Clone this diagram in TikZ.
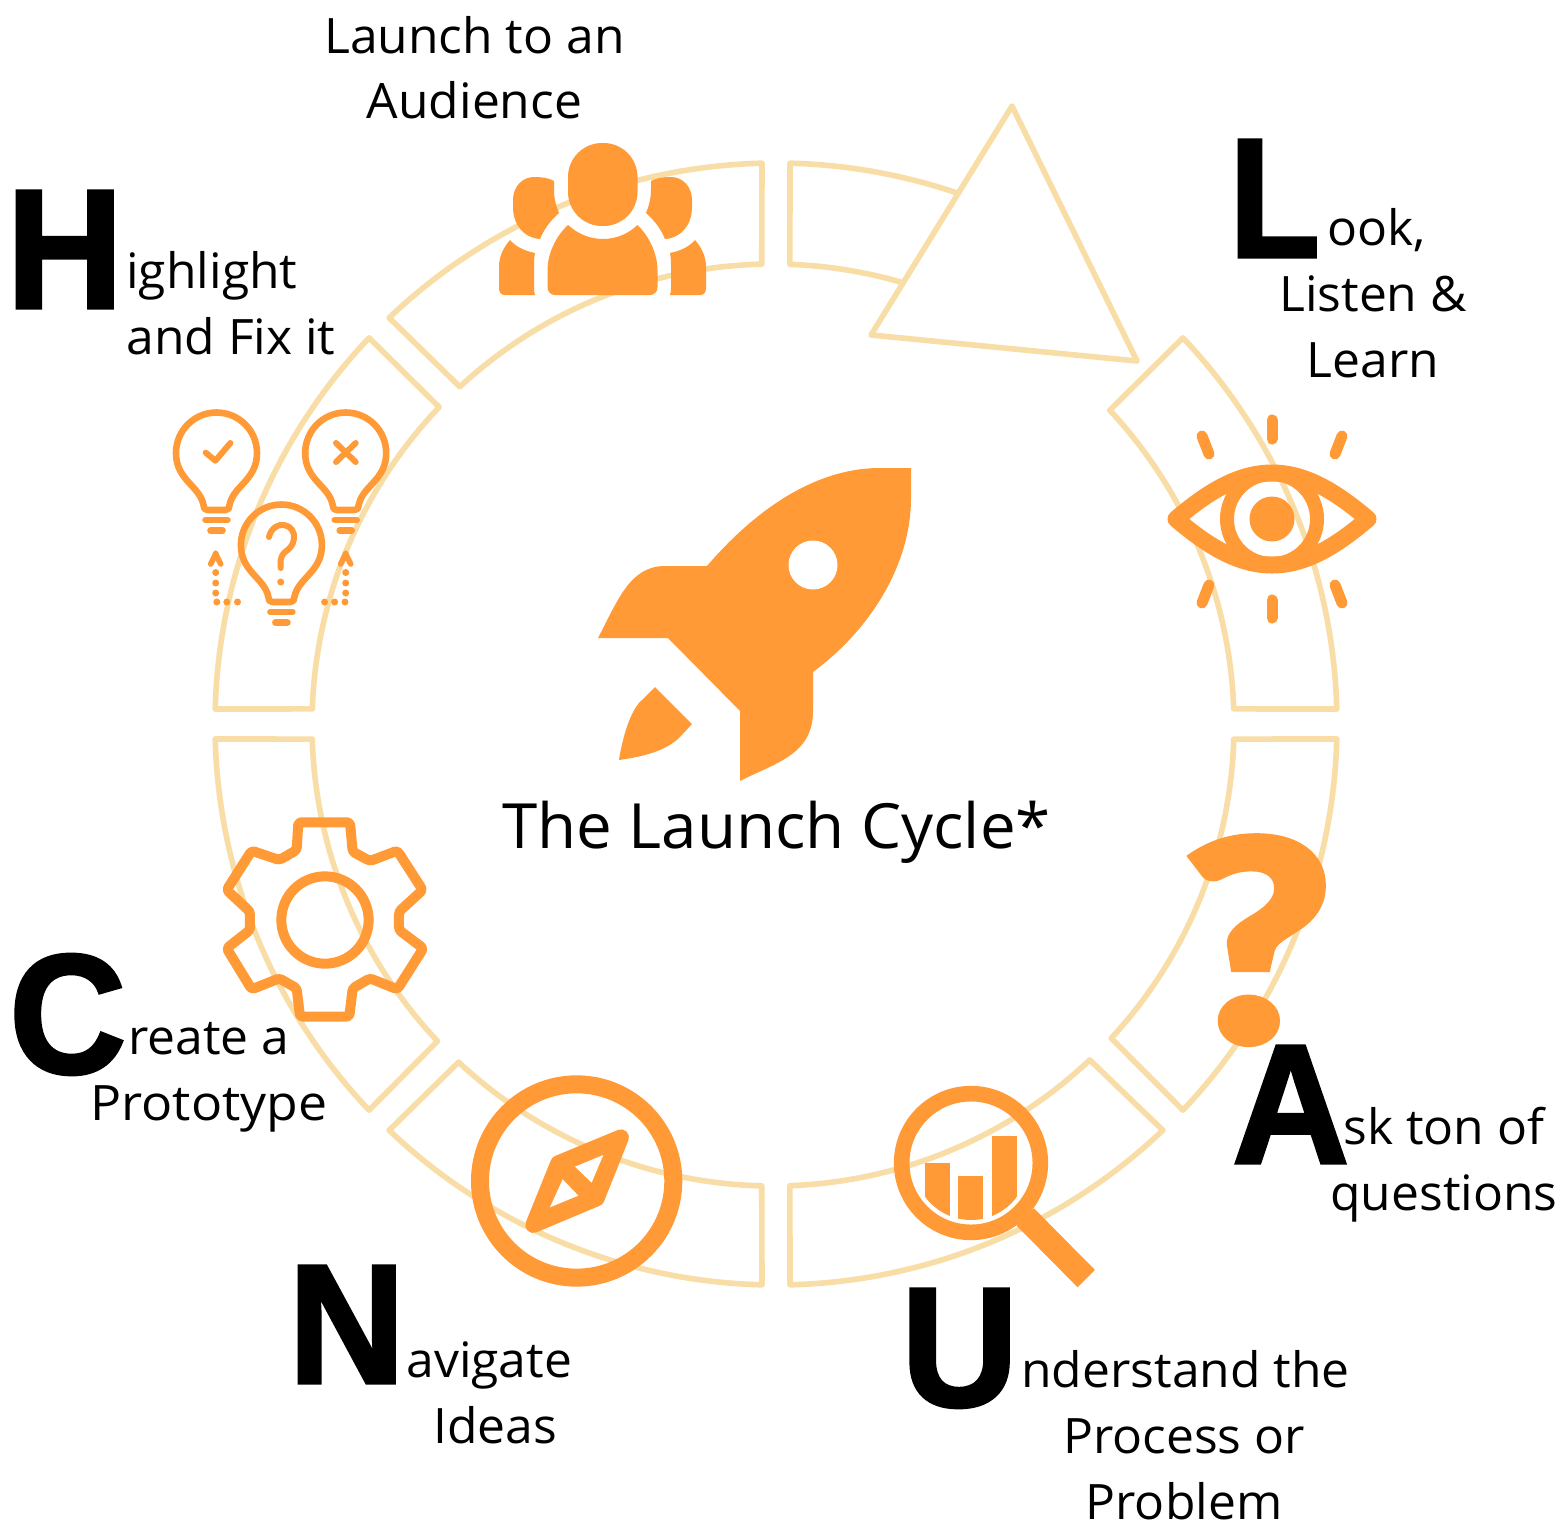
\documentclass[tikz,border=0pt]{standalone}
\usepackage{fontspec}
\usetikzlibrary{calc}
\setmainfont[FakeStretch=1.02]{Open Sans}
\newfontfamily\bigfont[FakeBold=2,FakeStretch=0.95]{Liberation Sans Bold}
\newfontfamily\bigfontL[FakeBold=2,FakeStretch=0.87]{Liberation Sans Bold}
\newfontfamily\qmfont[FakeBold=1.5,FakeStretch=1.17]{Lato Black}
\definecolor{ringc}{HTML}{F9DDA6}
\definecolor{orangec}{HTML}{FF9A36}
\tikzset{
  ringline/.style={draw=ringc,line width=2.8pt,line join=round},
  lab/.style={anchor=base,inner sep=0pt,font=\fontsize{24.4}{24.4}\selectfont,text=black},
  labl/.style={lab,anchor=base west},
  biglet/.style={anchor=base west,inner sep=0pt,font=\fontsize{85}{85}\bigfont,text=black},
  ostroke/.style={draw=orangec,line cap=round,line join=round},
}
\newcommand\ringseg[4]{\draw[ringline] ($(oc)+(#1:561)$) arc[start angle=#1,end angle=#2,radius=561] -- ($(ic)+(#3:461)$) arc[start angle=#3,end angle=#4,radius=461] -- cycle;}
\newcommand\bulbat[2]{\begin{scope}[shift={(#1,#2)}]
    \draw[ostroke,line width=3.3pt] (-9,57) -- (9,57) .. controls (12,57) and (13,55) .. (13,52)
      .. controls (15,42) and (22,36) .. (29,28) .. controls (36,20) and (40.5,12) .. (40.5,0)
      arc[start angle=0,end angle=-180,radius=40.5]
      .. controls (-40.5,12) and (-36,20) .. (-29,28) .. controls (-22,36) and (-15,42) .. (-13,52)
      .. controls (-13,55) and (-12,57) .. (-9,57) -- cycle;
    \draw[ostroke,line width=3.3pt] (-11,67) -- (11,67);
    \draw[ostroke,line width=3.3pt] (-6,77.5) -- (6,77.5);
\end{scope}}
\newcommand\uparrowat[2]{\begin{scope}[shift={(#1,#2)}]
    \draw[ostroke,line width=2.8pt] (-5,11) -- (-1,3) -- (0,0) -- (1,3) -- (5,11);
    \foreach \yy in {19.5,30,40} \fill[orangec] (0,\yy) circle[radius=3.5];
\end{scope}}
\begin{document}
\begin{tikzpicture}[x=1pt,y=1pt,yscale=-1,scale=0.5]
\useasboundingbox (0,0) rectangle (1565,1522);
\fill[white] (0,0) rectangle (1565,1522);
% ring
\coordinate (oc) at (776,724);
\coordinate (ic) at (773,725);
\ringseg{-43.5}{-1.53}{-2.0}{-43.07}
\ringseg{1.53}{43.5}{42.8}{1.75}
\ringseg{46.4}{88.57}{87.9}{46.6}
\ringseg{91.43}{133.6}{133.0}{91.4}
\ringseg{136.5}{178.47}{178.25}{136.7}
\ringseg{181.53}{223.5}{223.6}{182.0}
\ringseg{226.4}{268.57}{268.6}{227.2}
\draw[ringline] ($(oc)+(289:561)$) arc[start angle=289,end angle=271.43,radius=561] -- ($(ic)+(272.1:461)$) arc[start angle=272.1,end angle=286.3,radius=461];
% triangle
\draw[ringline,fill=white] (1012,106) -- (1137,361) -- (871,335) -- cycle;
% rocket
\fill[orangec] (911,468) -- (880,468) .. controls (815,468) and (755,510) .. (707,566)
  -- (665,566) .. controls (630,566) and (618,600) .. (598,638) -- (668,638) -- (740,711) -- (740,781)
  .. controls (775,763) and (813,755) .. (813,711) -- (813,672)
  .. controls (870,630) and (911,565) .. (911,498) -- cycle;
\fill[white] (813,565) circle[radius=24.5];
\fill[orangec] (655,687) -- (692,724) -- (680,737) .. controls (665,752) and (640,757) .. (619,760)
  .. controls (622,740) and (630,710) .. (642,700) -- cycle;
% eye
\draw[ostroke,line width=8.5pt] (1176,519) .. controls (1210,490) and (1240,473) .. (1272,473)
  .. controls (1304,473) and (1334,490) .. (1368,519)
  .. controls (1334,548) and (1304,565) .. (1272,565)
  .. controls (1240,565) and (1210,548) .. (1176,519) -- cycle;
\draw[draw=orangec,line width=7pt] (1272,519) circle[radius=45];
\fill[orangec] (1272,519) circle[radius=22.5];
\foreach \xa/\ya/\xb/\yb in {1272/420/1272/439,1202/436/1209/454,1342/436/1335/454,1209/585/1202/603,1335/585/1342/603,1272/600/1272/618}
  \draw[ostroke,line width=5.5pt] (\xa,\ya) -- (\xb,\yb);
% people
\fill[orangec,rounded corners=17pt] (568,143) rectangle (637.5,226);
\fill[orangec] (547.5,270) .. controls (547.5,255) and (555,237) .. (568,225)
  .. controls (578,234) and (590,239) .. (603,239) .. controls (616,239) and (628,234) .. (637.5,225)
  .. controls (650,237) and (657.5,255) .. (657.5,270) -- (657.5,287) .. controls (657.5,292) and (654,295) .. (650,295)
  -- (555,295) .. controls (551,295) and (547.5,292) .. (547.5,287) -- cycle;
\foreach \sc/\sh in {1/0,-1/1205}{
\begin{scope}[shift={(\sh,0)},xscale=\sc]
  \fill[orangec] (554,181) -- (554,190) .. controls (554,198) and (556,206) .. (559,213)
    .. controls (551,220) and (544,229) .. (540,239) .. controls (524,238) and (513,225) .. (513,207)
    -- (513,200) .. controls (513,187) and (522,177) .. (534,177) .. controls (542,177) and (549,178) .. (554,181) -- cycle;
  \fill[orangec] (510,240) .. controls (516,247) and (525,251) .. (535,253) .. controls (534,258) and (534,262) .. (534,267)
    -- (534,287) .. controls (534,290) and (534,293) .. (535,295) -- (505,295)
    .. controls (501,295) and (499,292) .. (499,288) -- (499,267) .. controls (499,257) and (503,248) .. (510,240) -- cycle;
\end{scope}}
% bulbs
\bulbat{216.5}{453}
\bulbat{345.7}{453}
\bulbat{281.4}{545}
\draw[ostroke,line width=3pt] (205.7,452.7) -- (215.4,460.7) -- (230.4,443);
\draw[ostroke,line width=3pt] (336,443) -- (355.7,462) (355.7,443) -- (336,462);
\draw[ostroke,line width=3pt] (269,537) .. controls (271,527) and (280,524) .. (284,525)
  .. controls (291,526) and (295,532) .. (294,539) .. controls (293,546) and (289,549) .. (285,552)
  .. controls (282,555) and (280.7,558) .. (280.7,560) -- (280.7,568);
\fill[orangec] (280.7,582) circle[radius=3.5];
\uparrowat{215.7}{553}
\uparrowat{345.7}{553}
\foreach \xx in {216.8,226.8,237.5,324.6,334.6,345} \fill[orangec] (\xx,602) circle[radius=3.5];
% gear
\begin{scope}[shift={(200,800)},scale=1/3]
  \draw[draw=orangec,line width=5pt,line join=round,rounded corners=1.5pt]
    (295,67) -- (450,67) -- (458,155) -- (510,183) -- (592,152) -- (668,270) -- (597,335) -- (597,390)
    -- (670,445) -- (592,568) -- (510,535) -- (458,565) -- (448,650) -- (300,650) -- (290,565)
    -- (238,535) -- (155,568) -- (80,445) -- (150,390) -- (150,335) -- (80,270) -- (155,152)
    -- (238,180) -- (290,150) -- cycle;
  \draw[draw=orangec,line width=5pt] (375,360) circle[radius=131];
  % compass
  \draw[draw=orangec,line width=9pt] (1130,1143) circle[radius=290];
  \filldraw[draw=orangec,fill=orangec,line width=8pt,line join=round]
    (1263,1012) -- (1075,1090) -- (1000,1275) -- (1190,1195) -- cycle;
  \fill[white] (1210,1065) -- (1125,1100) -- (1175,1148) -- cycle;
  \fill[white] (1088,1138) -- (1135,1187) -- (1050,1222) -- cycle;
\end{scope}
% magnifier
\begin{scope}[shift={(870,1060)},scale=1/3]
  \fill[orangec] (492,445) -- (675,630) -- (623,682) -- (440,497) -- cycle;
  \draw[draw=orangec,line width=7.8pt] (303,309) circle[radius=208];
  \begin{scope}
    \clip (303,309) circle[radius=171];
    \fill[orangec] (165,308) rectangle (240,500);
    \fill[orangec] (265,349) rectangle (340,500);
    \fill[orangec] (366,229) rectangle (441,500);
  \end{scope}
\end{scope}
% central text
\node[labl,font=\fontsize{31.2}{31.2}\selectfont] (title) at (502,848) {The Launch Cycle*};
% big question mark
\node[biglet,text=orangec,font=\fontsize{141}{141}\qmfont] (qm) at (1179,1043) {?};
% letters
\node[biglet] (bigH) at (6,308) {H};
\node[biglet,font=\fontsize{85}{85}\bigfontL] (bigL) at (1229,257) {L};
\node[biglet] (bigA) at (1232,1163) {A};
\node[biglet] (bigU) at (901,1406) {U};
\node[biglet] (bigN) at (288,1383) {N};
\node[biglet] (bigC) at (9,1073) {C};
% labels
\node[lab] (t1) at (474.5,53) {Launch to an};
\node[lab] (t2) at (474.5,118) {Audience};
\node[labl] (t3) at (1327,245) {ook,};
\node[lab] (t4) at (1373,311) {Listen \&};
\node[lab] (t5) at (1373,377) {Learn};
\node[labl] (t6) at (126,288) {ighlight};
\node[labl] (t7) at (126,354) {and Fix it};
\node[labl] (t8) at (128,1054) {reate a};
\node[labl] (t9) at (90,1120) {\addfontfeature{FakeStretch=1.06}Prototype};
\node[labl] (t10) at (406,1377) {avigate};
\node[lab] (t11) at (495,1443) {Ideas};
\node[labl] (t12) at (1021,1387) {nderstand the};
\node[lab] (t13) at (1184,1453) {Process or};
\node[lab] (t14) at (1184,1519) {Problem};
\node[labl] (t15) at (1343,1144) {sk ton of};
\node[labl] (t16) at (1330,1210) {questions};
\end{tikzpicture}
\end{document}
